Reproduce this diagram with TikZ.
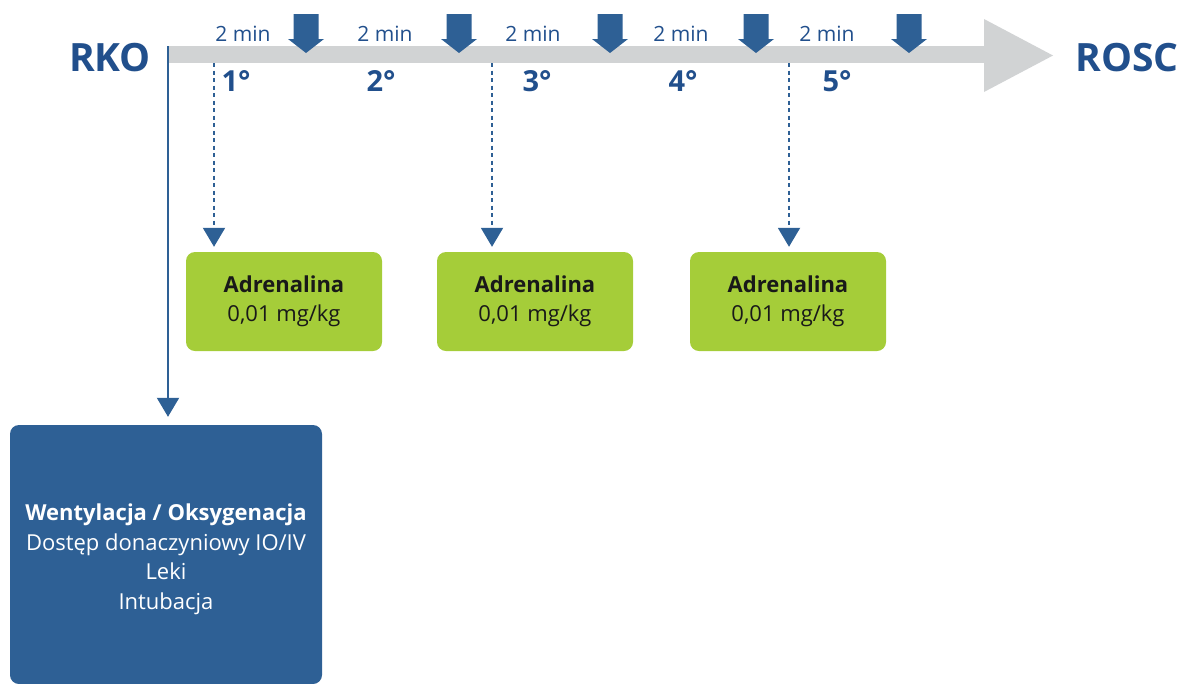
\documentclass[tikz,border=0pt]{standalone}
\usepackage{fontspec}
\setmainfont{Open Sans}
\usetikzlibrary{arrows.meta,positioning}
\definecolor{rkoblue}{HTML}{2E6095}
\definecolor{txtblue}{HTML}{214F8C}
\definecolor{bargray}{HTML}{D1D3D4}
\definecolor{adrgreen}{HTML}{A5CD39}
\begin{document}
\begin{tikzpicture}[x=1pt,y=-1pt,
  endlbl/.style={text=txtblue, font=\fontsize{39}{39}\selectfont\bfseries},
  minlbl/.style={text=txtblue, font=\fontsize{21}{21}\selectfont},
  deglbl/.style={text=txtblue, font=\fontsize{29}{29}\selectfont\bfseries},
  adrbox/.style={fill=adrgreen, rounded corners=9pt, minimum width=196pt, minimum height=99pt,
    align=center, text=black!90, font=\fontsize{22}{29.5}\selectfont, inner sep=0pt},
  tip/.style={-{Triangle[width=22pt,length=19pt]}, rkoblue, line width=2pt},
  dosearrow/.style={tip, dash pattern=on 4pt off 3.5pt},
]
\useasboundingbox (0,0) rectangle (1182,683);
%
% grey time bar
\fill[bargray] (168,46) rectangle (985,63);
\fill[bargray] (984,19) -- (1053,55.5) -- (984,92) -- cycle;
%
\node[endlbl] (rko) at (110,58) {RKO};
\node[endlbl] (rosc) at (1127,58) {ROSC};
%
% block arrows (every 2 min)
\foreach \x in {306,459,610,756,909} {
  \fill[rkoblue] (\x-12.5,14) -- (\x+12.5,14) -- (\x+12.5,39) -- (\x+18,39)
    -- (\x,53) -- (\x-18,39) -- (\x-12.5,39) -- cycle;
}
\foreach \x [count=\i] in {243,385,533,681,827} {
  \node[minlbl] (min\i) at (\x,34) {2 min};
}
\foreach \x [count=\i] in {236,381,537,683,837} {
  \node[deglbl] (deg\i) at (\x,81) {\i°};
}
%
% adrenalina
\node[adrbox] (adr1) at (284,301.5) {\textbf{Adrenalina}\\0,01 mg/kg};
\node[adrbox] (adr2) at (535,301.5) {\textbf{Adrenalina}\\0,01 mg/kg};
\node[adrbox] (adr3) at (788,301.5) {\textbf{Adrenalina}\\0,01 mg/kg};
%
\coordinate (dose1) at (214,63);
\coordinate (dose2) at (492,63);
\coordinate (dose3) at (789,63);
\foreach \i in {1,2,3} {
  \draw[dosearrow, shorten >=5pt] (dose\i) -- (adr\i.north -| dose\i);
}
%
% wentylacja
\node[fill=rkoblue, rounded corners=9pt, minimum width=312pt, minimum height=259pt,
  inner sep=0pt] (vent) at (166,554.5) {};
\node[align=center, text=white, font=\fontsize{22}{29.5}\selectfont]
  (venttxt) at ([yshift=-5pt]vent.center)
  {\textbf{Wentylacja / Oksygenacja}\\Dostęp donaczyniowy IO/IV\\Leki\\Intubacja};
\coordinate (start) at (168,46);
\draw[tip, shorten >=8pt] (start) -- (vent.north -| start);
\end{tikzpicture}
\end{document}
